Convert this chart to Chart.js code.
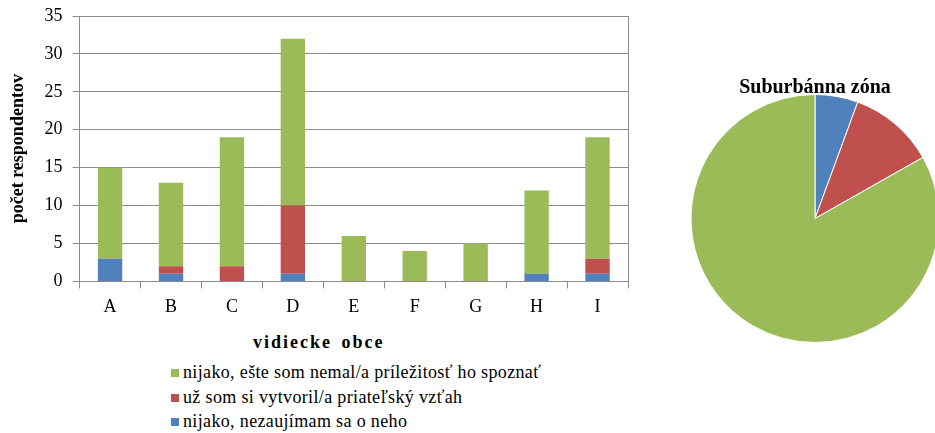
<!DOCTYPE html>
<html>
<head>
<meta charset="utf-8">
<script src="https://cdn.jsdelivr.net/npm/chart.js@4"></script>
<style>
    html, body { margin:0; padding:0; background:#fff; overflow:hidden; width:935px; height:433px; }
    #barBox { position:absolute; left:0; top:-3px; width:640px; height:329px; }
    #pieBox { position:absolute; left:680px; top:55px; width:270px; height:288px; }
    #xTitle { position:absolute; left:253px; top:332px; font-family:"Liberation Serif", serif; font-size:18px; font-weight:bold; letter-spacing:2px; word-spacing:3px; color:#000; }
    #legend { position:absolute; left:171px; top:360px; font-family:"Liberation Serif", serif; font-size:18px; letter-spacing:0.35px; color:#000; }
    #legend div { height:24.5px; line-height:24.5px; white-space:nowrap; }
    #legend span { display:inline-block; width:8px; height:8px; margin-right:4px; vertical-align:1px; }
</style>
</head>
<body>
<div id="barBox"><canvas id="barChart"></canvas></div>
<div id="xTitle">vidiecke obce</div>
<div id="legend"></div>
<div id="pieBox"><canvas id="pieChart"></canvas></div>

<script>
/* ================= DATA ================= */

const villages = ['A', 'B', 'C', 'D', 'E', 'F', 'G', 'H', 'I'];

const indifferent = [3, 1, 0, 1, 0, 0, 0, 1, 1];       // blue
const friendly = [0, 1, 2, 9, 0, 0, 0, 0, 2];          // red
const noChance = [12, 11, 17, 22, 6, 4, 5, 11, 16];    // green

const seriesNames = [
    'nijako, nezaujímam sa o neho',
    'už som si vytvoril/a priateľský vzťah',
    'nijako, ešte som nemal/a príležitosť ho spoznať'
];

const seriesColors = ['#4F81BD', '#C0504D', '#9BBB59'];

const suburbValues = [7, 14, 104];

const serif = '"Liberation Serif", "Times New Roman", serif';
const gridColor = '#8c8c8c';

/* ================= STACKED BARS ================= */

const barChart = new Chart(document.getElementById('barChart'), {

    type: 'bar',

    data: {
        labels: villages,
        datasets: [
            { label: seriesNames[0], data: indifferent, backgroundColor: seriesColors[0] },
            { label: seriesNames[1], data: friendly, backgroundColor: seriesColors[1] },
            { label: seriesNames[2], data: noChance, backgroundColor: seriesColors[2] }
        ]
    },

    options: {
        responsive: true,
        maintainAspectRatio: false,
        animation: false,
        barPercentage: 0.4,
        categoryPercentage: 1,
        layout: { padding: { top: 0, right: 4, left: 4, bottom: 0 } },
        plugins: {
            legend: { display: false },
            tooltip: { enabled: false }
        },
        scales: {
            x: {
                stacked: true,
                grid: {
                    drawOnChartArea: false,
                    tickLength: 7,
                    color: gridColor
                },
                border: { color: gridColor },
                ticks: {
                    color: '#000',
                    padding: 8,
                    font: { family: serif, size: 18 }
                }
            },
            y: {
                stacked: true,
                min: 0,
                max: 35,
                ticks: {
                    stepSize: 5,
                    color: '#000',
                    padding: 10,
                    font: { family: serif, size: 18, lineHeight: 1 }
                },
                grid: {
                    color: gridColor,
                    tickLength: 7
                },
                border: { color: gridColor },
                title: {
                    display: true,
                    text: 'počet respondentov',
                    color: '#000',
                    padding: { top: 4, bottom: 5 },
                    font: { family: serif, size: 18, weight: 'bold' }
                }
            },
            y2: {
                position: 'right',
                min: 0,
                max: 35,
                ticks: { display: false },
                grid: { display: false },
                border: { color: gridColor }
            }
        }
    }
});

/* legend under the chart, top entry = top of stack */
const legendBox = document.getElementById('legend');
barChart.data.datasets.slice().reverse().forEach(function(ds) {
    const row = document.createElement('div');
    row.innerHTML = '<span style="background:' + ds.backgroundColor + '"></span>' + ds.label;
    legendBox.appendChild(row);
});

/* ================= PIE ================= */

new Chart(document.getElementById('pieChart'), {

    type: 'pie',

    data: {
        labels: seriesNames,
        datasets: [{
            data: suburbValues,
            backgroundColor: seriesColors,
            borderColor: '#fff',
            borderWidth: 1
        }]
    },

    options: {
        responsive: true,
        maintainAspectRatio: false,
        animation: false,
        plugins: {
            legend: { display: false },
            tooltip: { enabled: false },
            title: {
                display: true,
                text: 'Suburbánna zóna',
                color: '#000',
                padding: { top: 21, bottom: -6 },
                font: { family: serif, size: 20, weight: 'bold' }
            }
        }
    }
});
</script>
</body>
</html>
